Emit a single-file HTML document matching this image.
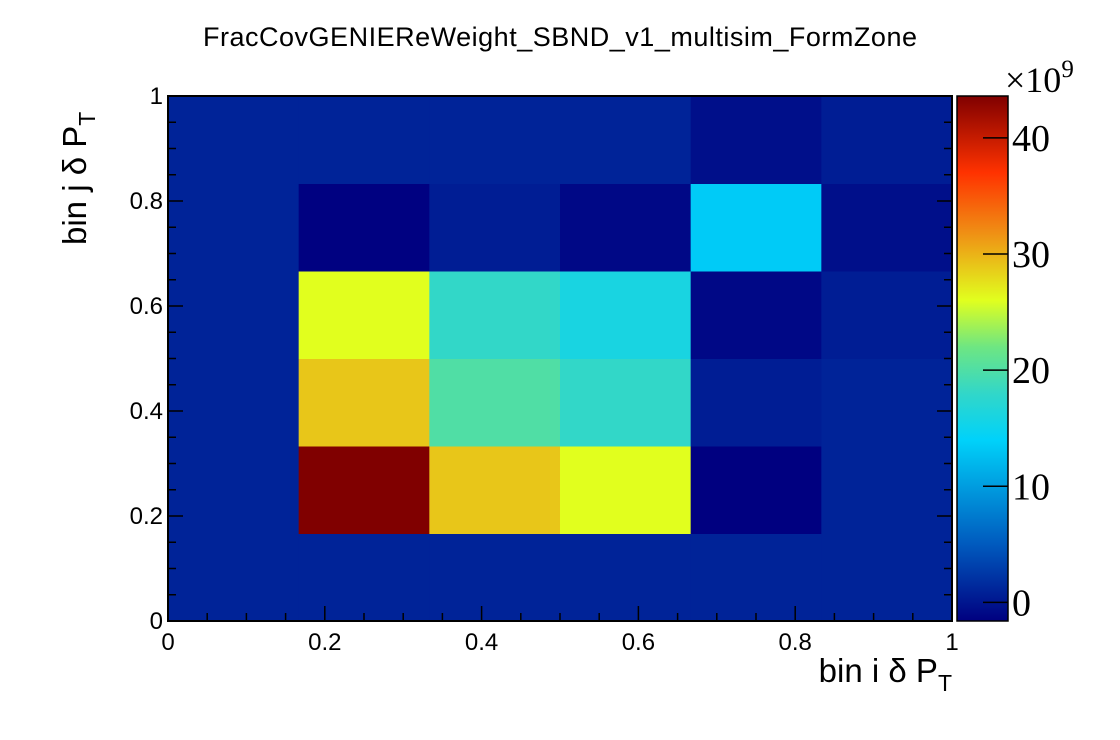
<!DOCTYPE html>
<html><head><meta charset="utf-8">
<style>
html,body{margin:0;padding:0;background:#fff;width:1120px;height:740px;overflow:hidden}
svg{display:block}
.sans{font-family:"Liberation Sans",sans-serif}
.serif{font-family:"Liberation Serif",serif}
</style></head>
<body>
<svg id="chart" width="1120" height="740">
<text class="sans" x="560" y="46" text-anchor="middle" font-size="27" textLength="714">FracCovGENIEReWeight_SBND_v1_multisim_FormZone</text>
<g id="cells"></g>
<g id="axes"></g>
<g id="cbar"></g>
<text class="sans" x="952" y="682" text-anchor="end" font-size="33">bin i δ P<tspan font-size="23" dy="9">T</tspan></text>
<text class="sans" transform="translate(86,245) rotate(-90)" font-size="33">bin j δ P<tspan font-size="23" dy="9">T</tspan></text>
</svg>
<script>
// rows listed from bottom (j=0) to top (j=5); each row i=0..5 (x-bins)
const xEdges = [0, 1/6, 2/6, 3/6, 4/6, 5/6, 1];
const yEdges = [0, 1/6, 2/6, 3/6, 4/6, 5/6, 1];
const row0 = [1, 1, 1, 1, 1, 1];
const row1 = [1, 43.6, 29, 26, -1.6, 1];
const row2 = [1, 29, 20, 18, 0.5, 1];
const row3 = [1, 26, 18, 16, -1, 0.5];
const row4 = [1, -1.5, 0.5, -1, 13.5, -0.5];
const row5 = [1, 1, 1, 1, -0.5, 0.5];
const zMin = -1.6, zMax = 43.6;
const zTicks = [0, 10, 20, 30, 40];
const axisTicks = ["0", "0.2", "0.4", "0.6", "0.8", "1"];

const rows = [row0, row1, row2, row3, row4, row5];
const L = 168, R = 952, T = 96, B = 621;
const sx = v => L + v * (R - L);
const sy = v => B - v * (B - T);
const CB = {l: 957, r: 1008};
const sz = v => B - (v - zMin) / (zMax - zMin) * (B - T);
const stops = [[0,[0,0,128]],[0.146,[0,90,190]],[0.345,[0,210,250]],[0.434,[50,215,200]],[0.522,[110,230,130]],[0.611,[225,255,30]],[0.743,[240,140,20]],[0.854,[255,50,0]],[1,[128,0,0]]];
function color(v){
  let t = Math.max(0, Math.min(1, (v - zMin) / (zMax - zMin)));
  for (let k = 1; k < stops.length; k++) {
    if (t <= stops[k][0]) {
      const a = stops[k-1], b = stops[k], f = (t - a[0]) / (b[0] - a[0]);
      const c = a[1].map((x, i) => Math.round(x + (b[1][i] - x) * f));
      return `rgb(${c[0]},${c[1]},${c[2]})`;
    }
  }
  return 'rgb(128,0,0)';
}
const NS = 'http://www.w3.org/2000/svg';
function mk(tag, attrs, parent){const e=document.createElementNS(NS,tag);for(const k in attrs)e.setAttribute(k,attrs[k]);parent.appendChild(e);return e;}
const cells = document.getElementById('cells');
rows.forEach((row, j) => row.forEach((v, i) => {
  const x0 = sx(xEdges[i]), x1 = sx(xEdges[i+1]), y0 = sy(yEdges[j+1]), y1 = sy(yEdges[j]);
  const r = mk('rect', {x: x0, y: y0, width: x1 - x0 + 0.5, height: y1 - y0 + 0.5, fill: color(v)}, cells);
  
  
}));
const ax = document.getElementById('axes');
const fr = mk('rect', {x: L, y: T, width: R - L, height: B - T, fill: 'none', stroke: '#000', 'stroke-width': 2}, ax);


for (let k = 0; k <= 20; k++) {
  const v = k / 20, major = k % 4 === 0, len = major ? 15 : 8;
  mk('line', {x1: sx(v), y1: B, x2: sx(v), y2: B - len, stroke: '#000', 'stroke-width': 1.5}, ax);
  mk('line', {x1: L, y1: sy(v), x2: L + len, y2: sy(v), stroke: '#000', 'stroke-width': 1.5}, ax);
  mk('line', {x1: R, y1: sy(v), x2: R - len, y2: sy(v), stroke: '#000', 'stroke-width': 1.5}, ax);
}
axisTicks.forEach((s, k) => {
  const v = k / 5;
  const tx = mk('text', {x: sx(v), y: B + 29, 'text-anchor': 'middle', 'font-size': 24, class: 'sans'}, ax);
  tx.textContent = s;
  
  
  const ty = mk('text', {x: L - 5, y: sy(v) + 8, 'text-anchor': 'end', 'font-size': 24, class: 'sans'}, ax);
  ty.textContent = s;
  
  
});
const cb = document.getElementById('cbar');
const defs = mk('defs', {}, cb);
const grad = mk('linearGradient', {id: 'g', x1: 0, y1: 1, x2: 0, y2: 0}, defs);
stops.forEach(s => mk('stop', {offset: s[0], 'stop-color': `rgb(${s[1].join(',')})`}, grad));
const cr = mk('rect', {x: CB.l, y: T, width: CB.r - CB.l, height: B - T, fill: 'url(#g)', stroke: '#000', 'stroke-width': 1.5}, cb);


zTicks.forEach(v => {
  mk('line', {x1: CB.r - 25, y1: sz(v), x2: CB.r, y2: sz(v), stroke: '#000', 'stroke-width': 1.5}, cb);
  const t = mk('text', {x: 1012, y: sz(v) + 13, 'font-size': 38, class: 'serif'}, cb);
  t.textContent = v;
  
  
});
const ex = mk('text', {x: 1005, y: 92, 'font-size': 36, class: 'serif'}, cb);
ex.innerHTML = '×10<tspan font-size="25" dy="-15">9</tspan>';


</script>
</body></html>
